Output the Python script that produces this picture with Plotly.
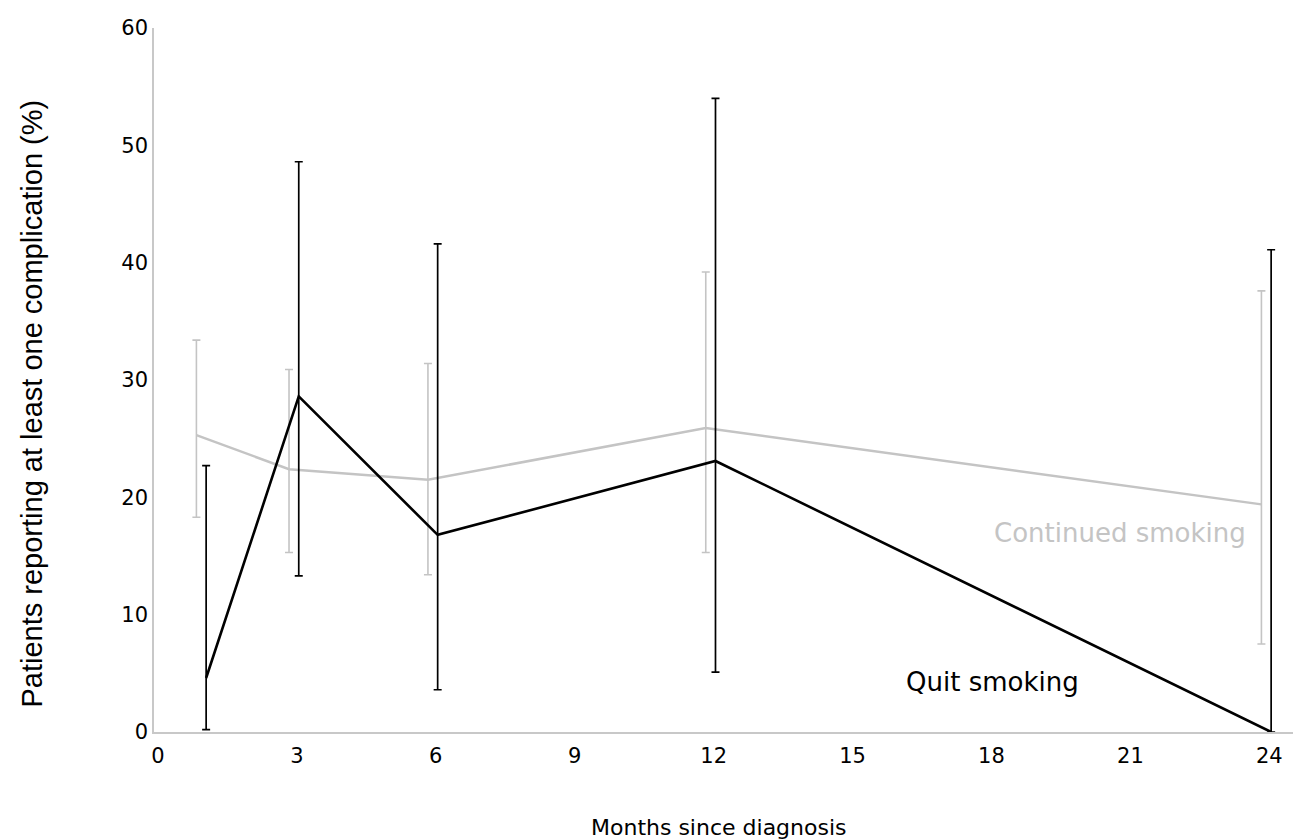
import plotly.graph_objects as go

months = [1, 3, 6, 12, 24]

quit_vals = [4.6, 28.6, 16.8, 23.1, 0.0]
quit_upper = [22.7, 48.6, 41.6, 54.0, 41.1]
quit_lower = [0.2, 13.3, 3.6, 5.1, 0.0]

cont_vals = [25.3, 22.4, 21.5, 25.9, 19.4]
cont_upper = [33.4, 30.9, 31.4, 39.2, 37.6]
cont_lower = [18.3, 15.3, 13.4, 15.3, 7.5]

x_ticks = [0, 3, 6, 9, 12, 15, 18, 21, 24]
y_ticks = [0, 10, 20, 30, 40, 50, 60]

# small horizontal offsets so the two series' error bars don't overlap
QUIT_SHIFT = 0.04
CONT_SHIFT = -0.17

FONT = "DejaVu Sans"
GRAY = "#c4c4c4"

fig = go.Figure()

fig.add_trace(go.Scatter(
    x=[m + CONT_SHIFT for m in months],
    y=cont_vals,
    mode="lines",
    line=dict(color=GRAY, width=2.5),
    error_y=dict(
        type="data", symmetric=False,
        array=[u - v for u, v in zip(cont_upper, cont_vals)],
        arrayminus=[v - l for v, l in zip(cont_vals, cont_lower)],
        color=GRAY, thickness=1.6, width=4,
    ),
    showlegend=False,
))

fig.add_trace(go.Scatter(
    x=[m + QUIT_SHIFT for m in months],
    y=quit_vals,
    mode="lines",
    line=dict(color="#000000", width=2.6),
    error_y=dict(
        type="data", symmetric=False,
        array=[u - v for u, v in zip(quit_upper, quit_vals)],
        arrayminus=[v - l for v, l in zip(quit_vals, quit_lower)],
        color="#000000", thickness=1.7, width=4,
    ),
    showlegend=False,
))

fig.add_annotation(x=20.78, y=16.96, text="Continued smoking", showarrow=False,
                   font=dict(family=FONT, size=26, color=GRAY), xanchor="center", yanchor="middle")
fig.add_annotation(x=18.03, y=4.26, text="Quit smoking", showarrow=False,
                   font=dict(family=FONT, size=26, color="#000000"), xanchor="center", yanchor="middle")

# y-axis title placed as a rotated annotation
fig.add_annotation(xref="paper", yref="paper", x=-0.107, y=0.466,
                   text="Patients reporting at least one complication (%)",
                   textangle=-90, showarrow=False, xanchor="center", yanchor="middle",
                   font=dict(family="Liberation Sans", size=29, color="#000000"))
# x-axis title
fig.add_annotation(xref="paper", yref="paper", x=0.494, y=-0.136,
                   text="Months since diagnosis", showarrow=False,
                   xanchor="center", yanchor="middle",
                   font=dict(family=FONT, size=22, color="#000000"))

fig.update_layout(
    width=1293, height=831,
    margin=dict(l=146, r=3, t=20, b=107),
    plot_bgcolor="white", paper_bgcolor="white",
    font=dict(family=FONT, size=21, color="#000000"),
    xaxis=dict(
        range=[-0.086, 24.62], tickmode="array", tickvals=x_ticks,
        ticktext=[str(t) for t in x_ticks],
        showgrid=False, zeroline=False, showline=True, linecolor="#c8c8c8", linewidth=1.5,
        ticks="", ticklabelstandoff=4,
    ),
    yaxis=dict(
        range=[0, 60], tickmode="array", tickvals=y_ticks,
        ticktext=[str(t) for t in y_ticks],
        showgrid=False, zeroline=False, showline=True, linecolor="#c8c8c8", linewidth=1.5,
        ticks="", ticklabelstandoff=0,
    ),
)

fig.write_html("out.html")
